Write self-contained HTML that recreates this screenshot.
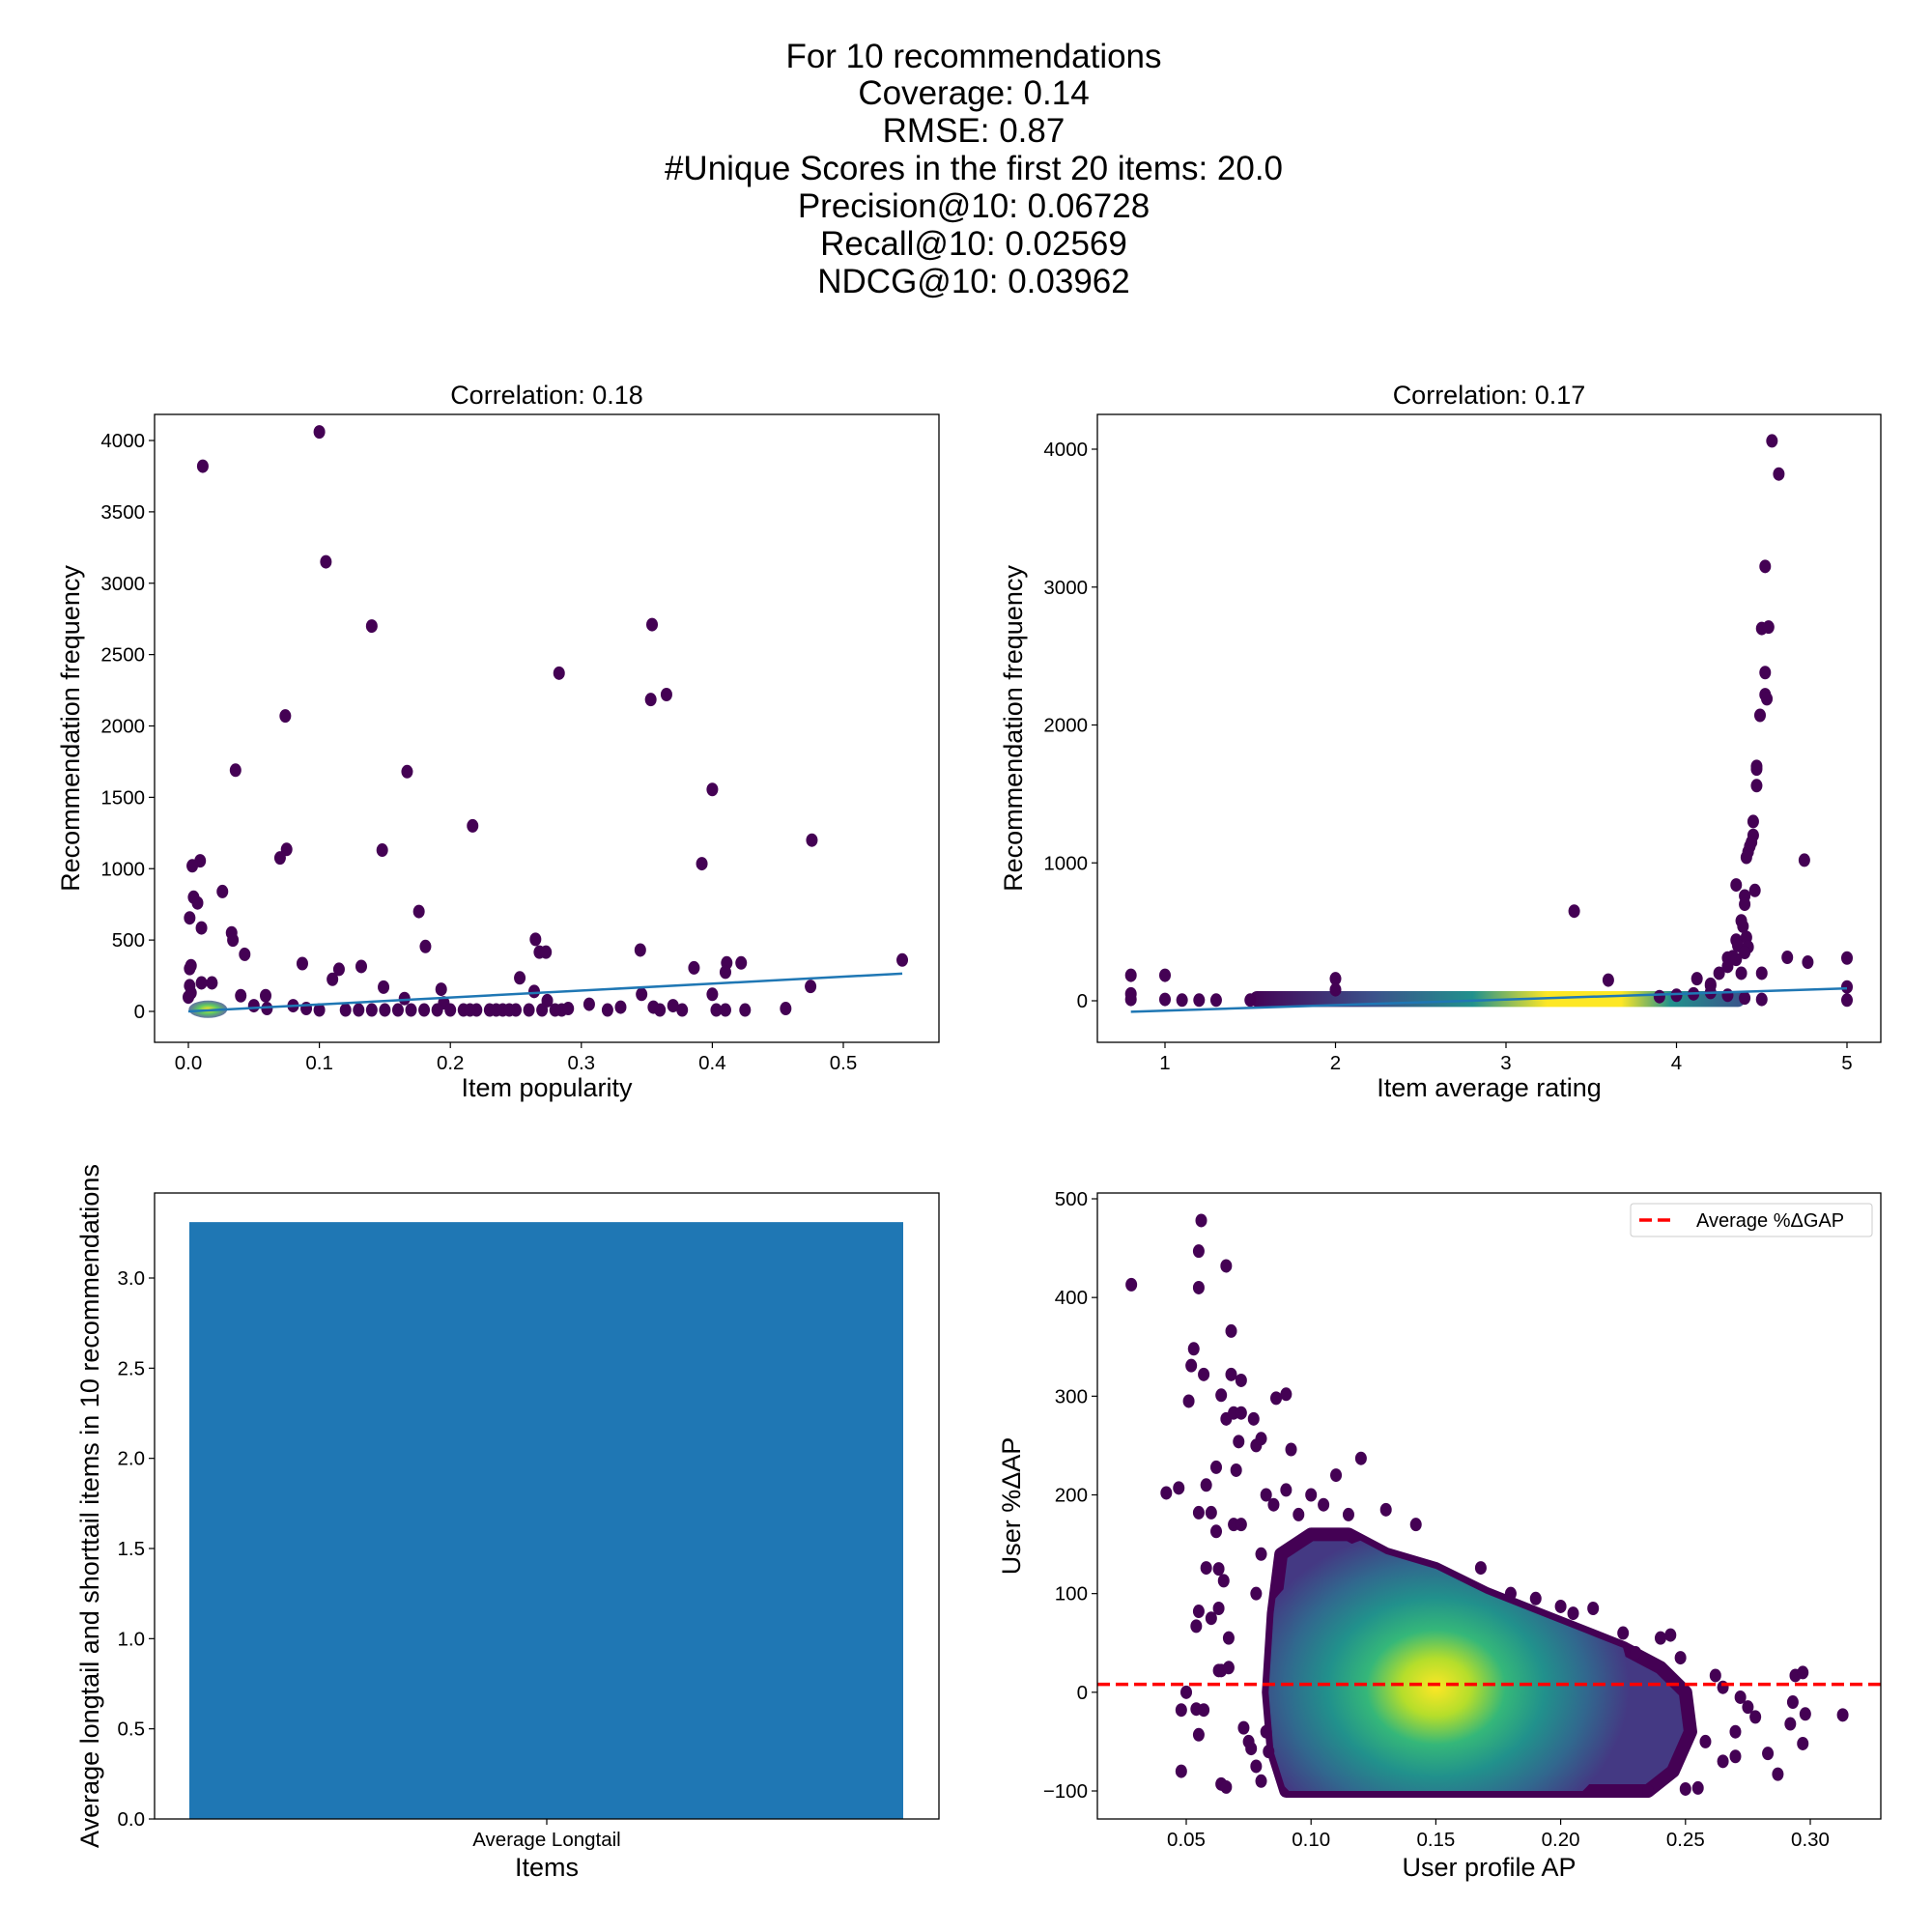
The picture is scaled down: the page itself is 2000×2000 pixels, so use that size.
<!DOCTYPE html>
<html><head><meta charset="utf-8"><style>
html,body{margin:0;padding:0;background:#fff}
svg{display:block;font-family:"Liberation Sans",sans-serif}
</style></head><body>
<svg id="fig" width="2000" height="2000" viewBox="0 0 2000 2000">
<defs>
<linearGradient id="bandGrad" x1="0" x2="1" y1="0" y2="0">
<stop offset="0" stop-color="#440154"/><stop offset="0.25" stop-color="#3b528b"/><stop offset="0.45" stop-color="#21918c"/><stop offset="0.6" stop-color="#fde725"/><stop offset="0.75" stop-color="#fde725"/><stop offset="0.85" stop-color="#21918c"/><stop offset="1" stop-color="#3b528b"/>
</linearGradient>
<radialGradient id="cloudGrad" cx="0.5" cy="0.5" r="0.5">
<stop offset="0" stop-color="#fde725"/><stop offset="0.18" stop-color="#b5de2b"/><stop offset="0.36" stop-color="#35b779"/><stop offset="0.56" stop-color="#21918c"/><stop offset="0.78" stop-color="#31688e"/><stop offset="1" stop-color="#443983"/>
</radialGradient>
<radialGradient id="originGrad" cx="0.5" cy="0.5" r="0.5">
<stop offset="0" stop-color="#fde725"/><stop offset="0.5" stop-color="#5ec962"/><stop offset="1" stop-color="#3b528b" stop-opacity="0.8"/>
</radialGradient>
<clipPath id="clipBR"><rect x="1136" y="1235" width="811" height="648"/></clipPath>
<clipPath id="clipCloud"><polygon id="cloudClipPoly" points=""/></clipPath>
</defs>
<g id="suptitle" font-size="35" text-anchor="middle" fill="#000">
<text x="1008" y="70">For 10 recommendations</text>
<text x="1008" y="108">Coverage: 0.14</text>
<text x="1008" y="147">RMSE: 0.87</text>
<text x="1008" y="186">#Unique Scores in the first 20 items: 20.0</text>
<text x="1008" y="225">Precision@10: 0.06728</text>
<text x="1008" y="264">Recall@10: 0.02569</text>
<text x="1008" y="303">NDCG@10: 0.03962</text>
</g>
<g id="p1"></g>
<g id="p2"></g>
<g id="p3"></g>
<g id="p4"></g>
</svg>
<script>
const popX = [0.1,0.011,0.105,0.14,0.354,0.283,0.353,0.365,0.074,0.036,0.167,0.4,0.217,0.476,0.392,0.075,0.148,0.07,0.009,0.003,0.004,0.007,0.026,0.176,0.001,0.01,0.033,0.034,0.043,0.181,0.265,0.268,0.273,0.345,0.545,0.087,0.115,0.132,0.386,0.411,0.422,0.41,0.002,0.001,0.11,0.253,0.149,0.475,0.193,0.346,0.4,0.01,0.018,0.059,0.04,0.264,0.165,0.274,0.456,0.306,0.32,0.33,0.36,0.377,0.403,0.41,0.425,0.37,0.355,0.195,0.2,0.23,0.25,0.285,0.29,0.12,0.13,0.16,0.17,0.21,0.24,0.26,0.18,0.09,0.08,0.06,0.05,0.001,0.002,0.0,0.1,0.14,0.15,0.19,0.22,0.27,0.28,0.215,0.235,0.245];
const popY = [4060,3820,3150,2700,2710,2370,2185,2220,2070,1690,1680,1555,1300,1200,1035,1135,1130,1075,1055,1020,800,760,840,700,655,585,550,500,400,455,505,415,415,430,360,335,295,315,305,340,340,275,320,300,225,235,170,175,155,120,120,200,200,110,110,140,90,75,20,50,10,30,10,10,10,10,10,40,30,60,10,10,10,10,20,10,10,10,10,10,10,10,10,20,40,20,40,180,130,100,10,10,10,10,10,10,10,10,10,10];
const popTicksX = [0.0,0.1,0.2,0.3,0.4,0.5];
const popTickLabelsX = ["0.0","0.1","0.2","0.3","0.4","0.5"];
const freqTicks1 = [0,500,1000,1500,2000,2500,3000,3500,4000];
const popFit = [0, 0.545, 0, 265];
const ratX = [4.56,4.6,4.52,4.5,4.54,4.52,4.52,4.53,4.49,4.47,4.47,4.47,4.45,4.45,4.44,4.43,4.42,4.41,4.75,4.46,4.35,4.4,4.4,4.38,4.39,4.41,4.35,4.36,4.42,4.4,4.33,4.3,4.65,4.77,3.4,0.8,1.0,2.0,2.0,0.8,0.8,5.0,5.0,5.0,3.6,4.12,4.2,1.0,1.1,1.2,1.3,1.5,4.5,4.5,4.3,4.25,4.2,4.35,4.38,4.4,4.3,4.2,4.1,4.0,3.9];
const ratY = [4060,3820,3150,2700,2710,2380,2220,2190,2070,1700,1680,1560,1300,1200,1150,1120,1080,1040,1020,800,840,760,700,580,540,460,440,400,390,350,320,310,315,280,650,185,185,160,80,50,10,310,100,5,150,160,110,10,5,5,5,5,200,10,250,200,120,300,200,20,40,60,50,40,30];
const ratTicksX = [1,2,3,4,5];
const freqTicks2 = [0,1000,2000,3000,4000];
const ratFit = [0.8, 5.0, -80, 90];
const ratBand = [1.5, 4.4, -45, 70];
const barCats = ["Average Longtail"];
const barVals = [3.31];
const barTicks = [0.0,0.5,1.0,1.5,2.0,2.5,3.0];
const apX = [0.028,0.056,0.055,0.066,0.055,0.068,0.053,0.052,0.057,0.068,0.072,0.051,0.064,0.086,0.09,0.066,0.069,0.072,0.077,0.071,0.078,0.08,0.092,0.042,0.047,0.058,0.062,0.07,0.055,0.06,0.062,0.069,0.072,0.058,0.063,0.065,0.055,0.054,0.06,0.063,0.067,0.063,0.064,0.067,0.05,0.048,0.054,0.057,0.055,0.048,0.064,0.066,0.073,0.076,0.12,0.13,0.142,0.168,0.2,0.213,0.24,0.244,0.262,0.265,0.272,0.275,0.278,0.287,0.283,0.293,0.294,0.297,0.298,0.297,0.292,0.313,0.255,0.25,0.235,0.27,0.265,0.082,0.085,0.09,0.095,0.1,0.105,0.11,0.115,0.08,0.078,0.083,0.075,0.078,0.08,0.082,0.18,0.19,0.205,0.225,0.23,0.248,0.258,0.27];
const apY = [413,478,447,432,410,366,348,331,322,322,316,295,301,298,302,277,283,283,277,254,250,257,246,202,207,210,228,225,182,182,163,170,170,126,125,113,82,67,75,85,55,22,22,25,0,-18,-17,-18,-43,-80,-93,-96,-36,-57,237,185,170,126,87,85,55,58,17,5,-5,-15,-25,-83,-62,-10,17,20,-22,-52,-32,-23,-97,-98,-100,-65,-70,200,190,205,180,200,190,220,180,140,100,-60,-50,-75,-90,-40,100,95,80,60,40,35,-50,-40];
const apTicksX = [0.05,0.10,0.15,0.20,0.25,0.30];
const apTicksY = [-100,0,100,200,300,400,500];
const avgGap = [8];
const cloudOutline = [[0.088,140],[0.1,160],[0.115,160],[0.13,140],[0.15,125],[0.17,100],[0.19,80],[0.21,60],[0.225,45],[0.24,25],[0.25,0],[0.252,-40],[0.245,-80],[0.235,-100],[0.09,-100],[0.085,-60],[0.083,0],[0.085,80]];
const cloudCore = [0.15, 5];

const NS="http://www.w3.org/2000/svg";
function mk(parent,tag,attrs){const e=document.createElementNS(NS,tag);for(const k in attrs)e.setAttribute(k,attrs[k]);parent.appendChild(e);return e;}
function lin(d0,d1,r0,r1){return v=>r0+(v-d0)*(r1-r0)/(d1-d0);}

function axesFrame(g,L,T,R,B){
  const r=mk(g,'rect',{x:L,y:T,width:R-L,height:B-T,fill:'none',stroke:'#000','stroke-width':1.3});
  
  
}
function xTicks(g,vals,labels,sx,B){
  vals.forEach((v,i)=>{
    const x=sx(v);
    mk(g,'line',{x1:x,x2:x,y1:B,y2:B+6,stroke:'#000','stroke-width':1.2});
    const t=mk(g,'text',{x:x,y:B+28,'font-size':20.5,'text-anchor':'middle'});
    t.textContent=labels[i];
    
    
  });
}
function yTicks(g,vals,labels,sy,L){
  vals.forEach((v,i)=>{
    const y=sy(v);
    mk(g,'line',{x1:L-6,x2:L,y1:y,y2:y,stroke:'#000','stroke-width':1.2});
    const t=mk(g,'text',{x:L-10,y:y+7,'font-size':20.5,'text-anchor':'end'});
    t.textContent=labels[i];
    
    
  });
}
function label(g,txt,x,y,rot,name,size){
  const t=mk(g,'text',{x:x,y:y,'font-size':size||27,'text-anchor':'middle'});
  if(rot)t.setAttribute('transform',`rotate(-90 ${x} ${y})`);
  t.textContent=txt;
  
  
}
function dots(g,xs,ys,sx,sy,color){
  xs.forEach((v,i)=>{
    const c=mk(g,'ellipse',{cx:sx(v),cy:sy(ys[i]),rx:6,ry:7,fill:color});
    
    
  });
}
const purple='#440154';

(function(){
  const g=document.getElementById('p1');const L=160,T=429,R=972,B=1079;
  const sx=lin(0,0.5,195,873), sy=lin(0,4000,1047,456);
  dots(g,popX,popY,sx,sy,purple);
  const o=mk(g,'ellipse',{cx:sx(0.015),cy:sy(15),rx:20,ry:9,fill:'url(#originGrad)'});
  
  
  const ln=mk(g,'line',{x1:sx(popFit[0]),x2:sx(popFit[1]),y1:sy(popFit[2]),y2:sy(popFit[3]),stroke:'#1f77b4','stroke-width':2.5});
  
  
  axesFrame(g,L,T,R,B);
  xTicks(g,popTicksX,popTickLabelsX,sx,B);
  yTicks(g,freqTicks1,freqTicks1.map(String),sy,L);
  label(g,'Correlation: 0.18',(L+R)/2,418,false,'panel-title',27);
  label(g,'Item popularity',(L+R)/2,1135,false,'x-axis-title');
  label(g,'Recommendation frequency',82,(T+B)/2,true,'y-axis-title');
})();

(function(){
  const g=document.getElementById('p2');const L=1136,T=429,R=1947,B=1079;
  const sx=lin(1,5,1206,1912), sy=lin(0,4000,1036,465);
  const band=mk(g,'rect',{x:sx(ratBand[0]),y:sy(ratBand[3]),width:sx(ratBand[1])-sx(ratBand[0]),height:sy(ratBand[2])-sy(ratBand[3]),rx:7,fill:'url(#bandGrad)'});
  
  
  dots(g,ratX,ratY,sx,sy,purple);
  const ln=mk(g,'line',{x1:sx(ratFit[0]),x2:sx(ratFit[1]),y1:sy(ratFit[2]),y2:sy(ratFit[3]),stroke:'#1f77b4','stroke-width':2.5});
  
  
  axesFrame(g,L,T,R,B);
  xTicks(g,ratTicksX,ratTicksX.map(String),sx,B);
  yTicks(g,freqTicks2,freqTicks2.map(String),sy,L);
  label(g,'Correlation: 0.17',(L+R)/2,418,false,'panel-title',27);
  label(g,'Item average rating',(L+R)/2,1135,false,'x-axis-title');
  label(g,'Recommendation frequency',1058,(T+B)/2,true,'y-axis-title');
})();

(function(){
  const g=document.getElementById('p3');const L=160,T=1235,R=972,B=1883;
  const sy=lin(0,3,1883,1323);
  barVals.forEach((v,i)=>{
    const r=mk(g,'rect',{x:196,y:sy(v),width:739,height:sy(0)-sy(v),fill:'#1f77b4'});
    
    
  });
  axesFrame(g,L,T,R,B);
  xTicks(g,[0],barCats,()=>566,B);
  yTicks(g,barTicks,barTicks.map(v=>v.toFixed(1)),sy,L);
  label(g,'Items',566,1942,false,'x-axis-title');
  label(g,'Average longtail and shorttail items in 10 recommendations',102,(T+B)/2,true,'y-axis-title');
})();

(function(){
  const g=document.getElementById('p4');const L=1136,T=1235,R=1947,B=1883;
  const sx=lin(0.05,0.30,1228,1874), sy=lin(-100,500,1854,1241);
  const pts=cloudOutline.map(p=>sx(p[0])+','+sy(p[1])).join(' ');
  document.getElementById('cloudClipPoly').setAttribute('points',pts);
  const cg=mk(g,'g',{'clip-path':'url(#clipBR)'});
  const poly=mk(cg,'polygon',{points:pts,fill:'#443983',stroke:'#440154','stroke-width':14,'stroke-linejoin':'round'});
  
  
  const inner=mk(cg,'g',{'clip-path':'url(#clipCloud)'});
  const cl=mk(inner,'ellipse',{cx:sx(cloudCore[0]),cy:sy(cloudCore[1]),rx:200,ry:165,fill:'url(#cloudGrad)'});
  
  
  dots(g,apX,apY,sx,sy,purple);
  const al=mk(g,'line',{x1:L,x2:R,y1:sy(avgGap[0]),y2:sy(avgGap[0]),stroke:'#ff0000','stroke-width':3.5,'stroke-dasharray':'13,6'});
  
  
  axesFrame(g,L,T,R,B);
  xTicks(g,apTicksX,apTicksX.map(v=>v.toFixed(2)),sx,B);
  yTicks(g,apTicksY,apTicksY.map(v=>v<0?'\u2212'+(-v):String(v)),sy,L);
  label(g,'User profile AP',(L+R)/2,1942,false,'x-axis-title');
  label(g,'User %\u0394AP',1056,(T+B)/2,true,'y-axis-title');
  const lg=mk(g,'g',{});
  
  
  mk(lg,'rect',{x:1688,y:1246,width:250,height:34,rx:3,fill:'#fff',stroke:'#ccc','stroke-width':1});
  mk(lg,'line',{x1:1697,x2:1734,y1:1263,y2:1263,stroke:'#ff0000','stroke-width':3.5,'stroke-dasharray':'13,6'});
  const lt=mk(lg,'text',{x:1756,y:1270,'font-size':20});
  lt.textContent='Average %\u0394GAP';
  
  
})();
</script>
</body></html>
